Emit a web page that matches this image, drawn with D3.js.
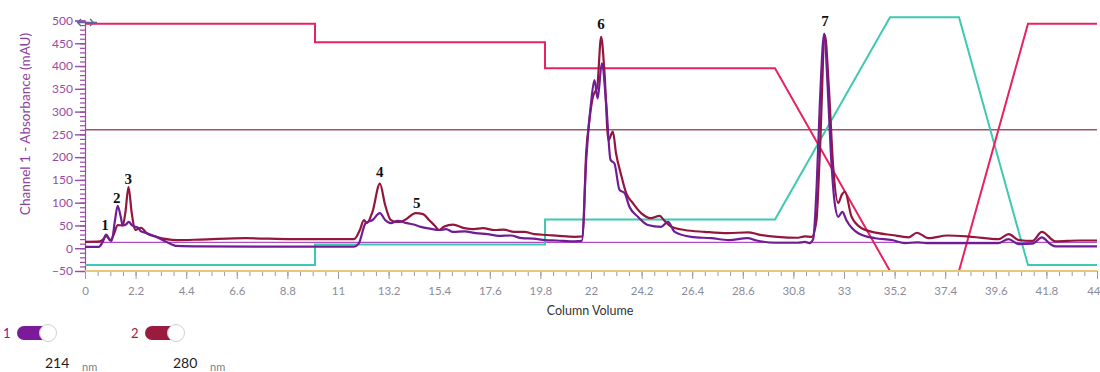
<!DOCTYPE html>
<html>
<head>
<meta charset="utf-8">
<script src="https://cdn.jsdelivr.net/npm/d3@7"></script>
<style>
  html, body { margin: 0; padding: 0; background: #fff; }
  svg { display: block; }
</style>
</head>
<body>
<svg id="chart" width="1100" height="372"></svg>
<script>
// ---------- data ----------
const xTickLabels = ["0","2.2","4.4","6.6","8.8","11","13.2","15.4","17.6","19.8","22","24.2","26.4","28.6","30.8","33","35.2","37.4","39.6","41.8","44"];
const yTickLabels = [-50, 0, 50, 100, 150, 200, 250, 300, 350, 400, 450, 500];

// Series 1 — 214 nm (purple): [column volume, mAU]
const trace214 = [
  [0,3],[0.6,3],[0.75,12],[0.92,30],[1.08,18],[1.16,16],[1.3,60],[1.42,93],[1.55,70],[1.64,50],
  [1.78,52],[1.9,58],[2.05,50],[2.18,47],[2.3,45],[2.44,37],[2.7,33],[3.1,25],[3.5,15],[4.0,5],
  [5,4],[8,3.5],[11.7,3.5],[11.9,10],[12.2,55],[12.5,62],[12.82,77],[13.05,62],[13.29,55],[13.6,60],
  [14.0,55],[14.3,52],[14.6,47],[15.0,43],[15.4,40],[15.7,42],[16.0,36],[16.5,37],[17.0,33],[17.5,31],
  [18.0,27],[18.5,28],[19.0,22],[19.5,21],[20.0,18],[20.5,17],[21.3,15],[21.6,16],[21.8,200],[22.0,318],
  [22.15,369],[22.29,329],[22.47,406],[22.66,318],[22.85,194],[23.02,186],[23.24,128],[23.46,121],[23.67,91],[24.04,69],
  [24.47,51],[25.05,47],[25.35,58],[25.64,36],[26.36,25],[27.23,22],[28.0,18],[28.8,22],[29.2,17],[30.0,12],
  [31.0,12],[31.3,14],[31.5,11],[31.66,20],[31.81,135],[31.95,318],[32.14,471],[32.29,354],[32.43,208],[32.58,106],
  [32.75,69],[32.93,80],[33.1,62],[33.62,33],[34.35,22],[35.08,18],[35.66,11],[36.2,13],[36.6,11],[39.7,11],
  [40.15,20],[40.6,9],[41.2,10],[41.6,24],[42.0,8],[42.2,4],[44,4]
];

// Series 2 — 280 nm (crimson)
const trace280 = [
  [0,14],[0.65,15],[0.8,20],[0.92,27],[1.1,18],[1.25,30],[1.42,51],[1.64,50],[1.76,80],[1.89,135],
  [2.03,78],[2.18,40],[2.44,45],[2.7,32],[3.1,25],[4.0,18],[5,19],[7,22],[9,20],[11.7,20],
  [11.95,40],[12.13,62],[12.25,55],[12.5,80],[12.82,142],[13.05,95],[13.29,62],[13.5,58],[13.7,58],[13.9,62],
  [14.38,77],[14.7,75],[14.96,62],[15.2,50],[15.4,40],[15.6,47],[16.0,52],[16.5,44],[16.9,42],[17.3,44],
  [17.8,40],[18.2,41],[18.66,36],[19.1,36],[19.53,31],[20.1,29],[20.6,27],[21.3,25],[21.64,26],[21.79,209],
  [21.93,281],[22.08,332],[22.27,354],[22.44,464],[22.58,391],[22.76,237],[22.95,256],[23.09,208],[23.31,161],[23.53,121],
  [23.82,99],[24.18,77],[24.6,66],[24.98,71],[25.2,60],[25.49,47],[26.07,40],[26.94,36],[27.96,33],[28.83,35],
  [29.3,30],[30.1,25],[31.0,23],[31.3,26],[31.6,25],[31.8,60],[31.95,209],[32.17,468],[32.34,354],[32.53,179],
  [32.75,99],[32.9,117],[33.04,124],[33.33,69],[33.77,44],[34.5,33],[35.08,29],[35.8,24],[36.17,34],[36.67,22],
  [37.5,28],[38.56,25],[39.72,20],[40.16,31],[40.6,18],[41.2,16],[41.6,36],[42.2,15],[43.2,17],[44,17]
];

// Gradient / buffer traces
const gradientPink = [[0,493],[10,493],[10,452],[20,452],[20,395],[30,395],[35,-50],[38,-50],[41,493],[44,493]];
const gradientTeal = [[0,-37],[10,-37],[10,8],[20,8],[20,63],[30,63],[35,507],[38,507],[41,-37],[44,-37]];
const thresholdLevel = 260;
const baselineLevel = 13;

// Peak annotations: [label, column volume, mAU]
const peakLabels = [["1",0.87,47],["2",1.38,107],["3",1.88,149],["4",12.82,164],["5",14.42,96],["6",22.44,488],["7",32.17,496]];

const legendItems = [
  {id:"1", nm:"214", color:"#7b1a9a"},
  {id:"2", nm:"280", color:"#9b1b3e"}
];

// ---------- scales ----------
const svg = d3.select("#chart");
const x = d3.scaleLinear().domain([0, 44]).range([85, 1097]);
const y = d3.scaleLinear().domain([-50, 500]).range([271, 20.5]);

const line = d3.line().x(d => x(d[0])).y(d => y(d[1]));
const smooth = d3.line().x(d => x(d[0])).y(d => y(d[1])).curve(d3.curveMonotoneX);

// ---------- axes ----------
const axisPurple = "#9a4aa6";
const yMinor = d3.range(-50, 501, 10);
const gyMinor = svg.append("g").attr("transform", `translate(${x(0)},0)`)
  .call(d3.axisLeft(y).tickValues(yMinor).tickSize(5).tickFormat(""));
gyMinor.select(".domain").remove();
gyMinor.selectAll("line").attr("stroke", axisPurple).attr("stroke-width", 1.2);

const gy = svg.append("g").attr("transform", `translate(${x(0)},0)`)
  .call(d3.axisLeft(y).tickValues(yTickLabels).tickSize(10).tickPadding(2));
gy.select(".domain").attr("stroke", axisPurple).attr("stroke-width", 1.2);
gy.selectAll("line").attr("stroke", axisPurple).attr("stroke-width", 1.4);
gy.selectAll("text").attr("fill", axisPurple).style("font-family", "Lato, sans-serif").style("font-size", "12px");

// X axis
const xMajor = xTickLabels.map(Number);
const xMinor = d3.range(0, 44.01, 0.55);
const gxMinor = svg.append("g").attr("transform", `translate(0,${y(-50)})`)
  .call(d3.axisBottom(x).tickValues(xMinor).tickSize(5).tickFormat(""));
gxMinor.select(".domain").remove();
gxMinor.selectAll("line").attr("stroke", "#9a9aa6");

const gx = svg.append("g").attr("transform", `translate(0,${y(-50)})`)
  .call(d3.axisBottom(x).tickValues(xMajor).tickSize(8).tickPadding(8)
    .tickFormat((d, i) => xTickLabels[i]));
gx.select(".domain").remove();
gx.selectAll("line").attr("stroke", "#9a9aa6");
gx.selectAll("text").attr("fill", "#8a8c9c").style("font-family", "Lato, sans-serif").style("font-size", "11.5px");
// keep the last label inside the frame
gx.selectAll("text").filter(d => d === 44).attr("text-anchor", "end").attr("dx", 3);

// Axis titles
svg.append("text")
  .attr("transform", `translate(30,124) rotate(-90)`)
  .attr("text-anchor", "middle")
  .attr("fill", "#8e3f9e")
  .style("font-family", "Lato, sans-serif").style("font-size", "13.5px")
  .text("Channel 1 - Absorbance (mAU)");

svg.append("text")
  .attr("x", 590).attr("y", 315)
  .attr("text-anchor", "middle")
  .attr("fill", "#333")
  .style("font-family", "Lato, sans-serif").style("font-size", "12.5px")
  .text("Column Volume");

// ---------- reference lines ----------
svg.append("line").attr("x1", x(0)).attr("x2", x(44))
  .attr("y1", y(thresholdLevel)).attr("y2", y(thresholdLevel))
  .attr("stroke", "#a2506e").attr("stroke-width", 1.6);
svg.append("line").attr("x1", x(0)).attr("x2", x(44))
  .attr("y1", y(baselineLevel)).attr("y2", y(baselineLevel))
  .attr("stroke", "#b04cc4").attr("stroke-width", 1.3);

// ---------- gradient lines ----------
svg.append("path").datum(gradientTeal).attr("d", line)
  .attr("fill", "none").attr("stroke", "#3fc8b2").attr("stroke-width", 2);
svg.append("path").datum(gradientPink).attr("d", line)
  .attr("fill", "none").attr("stroke", "#e8225e").attr("stroke-width", 2);

// bottom axis line (gold)
svg.append("line").attr("x1", x(0)).attr("x2", x(44))
  .attr("y1", y(-50)).attr("y2", y(-50))
  .attr("stroke", "#e8c878").attr("stroke-width", 2.2);

// ---------- absorbance traces ----------
svg.append("path").datum(trace280).attr("d", smooth)
  .attr("fill", "none").attr("stroke", "#93173c").attr("stroke-width", 2.2).attr("stroke-linejoin", "round");
svg.append("path").datum(trace214).attr("d", smooth)
  .attr("fill", "none").attr("stroke", "#701c95").attr("stroke-width", 2.2).attr("stroke-linejoin", "round");

// ---------- peak labels ----------
svg.append("g").selectAll("text").data(peakLabels).join("text")
  .attr("x", d => x(d[1])).attr("y", d => y(d[2]))
  .attr("text-anchor", "middle").attr("dominant-baseline", "middle")
  .style("font-family", "'Liberation Serif', 'Times New Roman', serif")
  .style("font-weight", "bold").style("font-size", "15px")
  .attr("fill", "#111")
  .text(d => d[0]);

// small resize icon at top of y axis
svg.append("path")
  .attr("d", "M81,19 L77.5,22.5 L81,26 M90,19 L93.5,22.5 L90,26 M78,22.5 L97,22.5")
  .attr("fill", "none").attr("stroke", "#5e6498").attr("stroke-width", 1.3);

// ---------- legend ----------
const lg = svg.append("g");
const lgX = [3, 131];
legendItems.forEach((it, i) => {
  const g = lg.append("g").attr("transform", `translate(${lgX[i]},0)`);
  g.append("text").attr("x", 0).attr("y", 338)
    .attr("fill", it.color).style("font-family", "Lato, sans-serif").style("font-size", "13px")
    .text(it.id);
  g.append("rect").attr("x", 14).attr("y", 326).attr("width", 38).attr("height", 14).attr("rx", 7)
    .attr("fill", it.color);
  g.append("circle").attr("cx", 45).attr("cy", 333).attr("r", 8.5)
    .attr("fill", "#fff").attr("stroke", "#d0d0d6").attr("stroke-width", 1);
  g.append("text").attr("x", 42).attr("y", 368)
    .attr("fill", "#222").style("font-family", "Lato, sans-serif").style("font-size", "14px")
    .text(it.nm);
  g.append("text").attr("x", 79).attr("y", 371)
    .attr("fill", "#7a7e8e").style("font-family", "Lato, sans-serif").style("font-size", "11px")
    .text("nm");
});
</script>
</body>
</html>
